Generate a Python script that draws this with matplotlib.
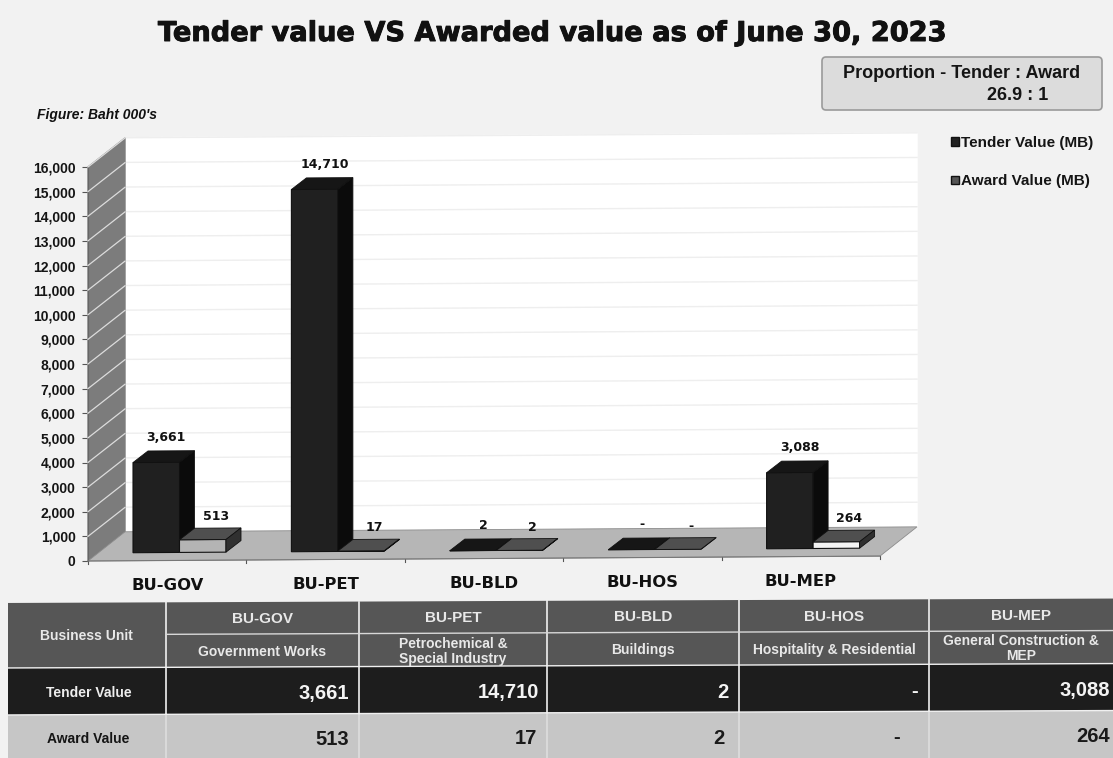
import matplotlib
matplotlib.use("Agg")
import matplotlib.pyplot as plt
import matplotlib.patheffects as pe
from matplotlib.patches import FancyBboxPatch, Patch, Rectangle
from matplotlib.transforms import Affine2D

W, H = 1113, 758

units = ["BU-GOV", "BU-PET", "BU-BLD", "BU-HOS", "BU-MEP"]
unit_names = ["Government Works", "Petrochemical &\nSpecial Industry", "Buildings",
              "Hospitality & Residential", "General Construction &\nMEP"]
tender = [3661, 14710, 2, 0, 3088]
award = [513, 17, 2, 0, 264]
award_front = ["#b4b4b4", "#4a4a4a", "#555555", "#555555", "#f4f4f4"]
yticks = list(range(0, 16001, 1000))
col_edges = [8, 166, 359, 547, 739, 929, 1113]
row_edges = [603, 635, 668, 715, 758]
tender_pad = [10, 8, 11, 11, 3]
award_pad = [10, 10, 14, 29, 3]

BG = "#f2f2f2"
SANS = "Liberation Sans"
HEAVY = [pe.withStroke(linewidth=0.7, foreground="#111111")]


def fmt(v):
    return f"{v:,}" if v else "-"


def bar3d(ax, tr, left, value, width, base, dx, dy, front, top, side, z):
    ax.bar(left, value, width, bottom=base, align="edge", color=front, edgecolor="#111111",
           linewidth=0.8, transform=tr, zorder=z, clip_on=False)
    h = base + value
    ax.fill([left, left + dx, left + width + dx, left + width], [h, h + dy, h + dy, h],
            color=top, ec="#111111", lw=0.6, transform=tr, zorder=z, clip_on=False)
    ax.fill([left + width, left + width + dx, left + width + dx, left + width],
            [base, base + dy, h + dy, h], color=side, ec="#111111", lw=0.6,
            transform=tr, zorder=z, clip_on=False)


fig = plt.figure(figsize=(W / 100, H / 100), dpi=100, facecolor=BG)

# full page layer for the table and the free text, in pixels
page = fig.add_axes([0, 0, 1, 1], zorder=0)
page.set_xlim(0, W)
page.set_ylim(H, 0)
page.axis("off")
page_tilt = Affine2D.from_values(1, -0.004, 0, 1, 0, 0) + page.transData

page.text(552, 34, "Tender value VS Awarded value as of June 30, 2023", ha="center", va="center",
          fontsize=19.6, fontweight="bold", family="DejaVu Sans", color="#111111",
          path_effects=HEAVY)
page.text(37, 115, "Figure: Baht 000's", ha="left", va="center", fontsize=10,
          fontweight="bold", style="italic", family=SANS, color="#111111")
page.add_patch(FancyBboxPatch((822, 57), 280, 53, boxstyle="round,pad=0,rounding_size=4",
                              fc="#dcdcdc", ec="#9a9a9a", lw=1.2))
page.text(962, 73, "Proportion - Tender : Award", ha="center", va="center", fontsize=13,
          fontweight="bold", family=SANS, color="#151515")
page.text(1018, 96, "26.9 : 1", ha="center", va="center", fontsize=13,
          fontweight="bold", family=SANS, color="#151515")

# table
top, sub, head, dark, bottom = row_edges
page.add_patch(Rectangle((col_edges[0], top), W - col_edges[0], head - top, fc="#565656",
                         transform=page_tilt))
page.add_patch(Rectangle((col_edges[0], head), W - col_edges[0], dark - head, fc="#1d1d1d",
                         transform=page_tilt))
page.add_patch(Rectangle((col_edges[0], dark), W - col_edges[0], bottom - dark + 6, fc="#c6c6c6",
                         transform=page_tilt))
for x in col_edges[1:-1]:
    page.plot([x, x], [top, dark], color="#f0f0f0", lw=1.2, transform=page_tilt, zorder=3)
    page.plot([x, x], [dark, bottom + 6], color="#dedede", lw=1.2, transform=page_tilt, zorder=3)
for y in (head, dark):
    page.plot([col_edges[0], W], [y, y], color="#f0f0f0", lw=1.0, transform=page_tilt, zorder=3)
page.plot([col_edges[1], W], [sub, sub], color="#d8d8d8", lw=1.0, transform=page_tilt, zorder=3)

txt = dict(family=SANS, fontweight="bold", va="center", transform=page_tilt, zorder=4)
mid0 = (col_edges[0] + col_edges[1]) / 2
page.text(mid0 - 1, 636, "Business Unit", ha="center", color="#e8e8e8", fontsize=10, **txt)
page.text(mid0 + 2, 693, "Tender Value", ha="center", color="#eeeeee", fontsize=10, **txt)
page.text(mid0 + 1, 739, "Award Value", ha="center", color="#151515", fontsize=10, **txt)
for i, unit in enumerate(units):
    l, r = col_edges[i + 1], col_edges[i + 2]
    c = (l + r) / 2
    page.text(c, 620, unit, ha="center", color="#e8e8e8", fontsize=11, **txt)
    page.text(c, 653, unit_names[i], ha="center", color="#e8e8e8", fontsize=10,
              linespacing=1.1, **txt)
    page.text(r - tender_pad[i], 695, fmt(tender[i]), ha="right", color="#f4f4f4",
              fontsize=14.5, **txt)
    page.text(r - award_pad[i], 741, fmt(award[i]), ha="right", color="#1a1a1a",
              fontsize=14.5, **txt)

# chart, the front plane of the fake 3D box
x0, x1, y0, y16 = 88, 880, 561, 167
ax = fig.add_axes([x0 / W, 1 - y0 / H, (x1 - x0) / W, (y0 - y16) / H], zorder=1)
ax.set_xlim(0, len(units))
ax.set_ylim(0, yticks[-1])
ax.patch.set_alpha(0)
tilt = Affine2D.from_values(1, 40, 0, 1, 0, 0) + ax.transData
px_x = len(units) / (x1 - x0)
px_y = yticks[-1] / (y0 - y16)

wall_dx, wall_dy = 37 * px_x, 29 * px_y
bar_dx, bar_dy = 15 * px_x, 11.5 * px_y
bar_w = 46.5 * px_x
base = 8 * px_y
n = len(units)

ax.fill([wall_dx, n + wall_dx, n + wall_dx, wall_dx],
        [wall_dy, wall_dy, yticks[-1] + wall_dy, yticks[-1] + wall_dy],
        color="white", transform=tilt, clip_on=False, zorder=1)
ax.fill([0, wall_dx, wall_dx, 0], [0, wall_dy, yticks[-1] + wall_dy, yticks[-1]],
        color="#7c7c7c", clip_on=False, zorder=2)
ax.fill([0, n, n + wall_dx, wall_dx], [0, 0, wall_dy, wall_dy], color="#b6b6b6",
        ec="#8c8c8c", lw=0.6, transform=tilt, clip_on=False, zorder=2)
for v in yticks[1:]:
    ax.plot([wall_dx, n + wall_dx], [v + wall_dy, v + wall_dy], color="#eeeeee", lw=1.0,
            transform=tilt, clip_on=False, zorder=1.5)
    ax.plot([0, wall_dx], [v, v + wall_dy], color="#dcdcdc", lw=0.9, clip_on=False, zorder=3)
for i in range(n + 1):
    ax.plot([i, i], [0, -130], color="#555555", lw=0.8, transform=tilt, clip_on=False, zorder=3)
ax.plot([0, n], [0, 0], color="#777777", lw=0.8, transform=tilt, clip_on=False, zorder=3)

for i in range(n):
    left = i + 45 * px_x
    bar3d(ax, tilt, left, tender[i], bar_w, base, bar_dx, bar_dy,
          "#202020", "#161616", "#0b0b0b", 5)
    bar3d(ax, tilt, left + bar_w, award[i], bar_w, base, bar_dx, bar_dy,
          award_front[i], "#4f4f4f", "#303030", 6)
    ax.text(left + bar_w / 2 + 10 * px_x, tender[i] + base + 25 * px_y, fmt(tender[i]),
            ha="center", va="center", fontsize=9, fontweight="bold", color="#111111",
            family="DejaVu Sans", transform=tilt, zorder=7, clip_on=False)
    ax.text(left + 1.5 * bar_w + 13 * px_x, award[i] + base + 23 * px_y, fmt(award[i]),
            ha="center", va="center", fontsize=9, fontweight="bold", color="#111111",
            family="DejaVu Sans", transform=tilt, zorder=7, clip_on=False)
    ax.text(i + 0.5, -25 * px_y, units[i], ha="center", va="center", fontsize=11.8,
            fontweight="bold", color="#111111", family="DejaVu Sans", transform=tilt,
            clip_on=False)

for side in ("top", "right", "bottom"):
    ax.spines[side].set_visible(False)
ax.spines["left"].set_color("#666666")
ax.set_xticks([])
ax.set_yticks(yticks)
ax.set_yticklabels([f"{v:,}" for v in yticks], fontsize=10, fontweight="bold",
                   family=SANS, color="#151515")
ax.tick_params(axis="y", length=4, width=0.8, color="#555555", pad=5)

handles = [Patch(fc="#222222", ec="#111111", label="Tender Value (MB)"),
           Patch(fc="#555555", ec="#111111", label="Award Value (MB)")]
fig.legend(handles=handles, loc="upper left", bbox_to_anchor=(948 / W, 1 - 133 / H), frameon=False,
           prop=dict(family=SANS, weight="bold", size=11), labelcolor="#151515",
           handlelength=0.5, handleheight=0.5, handletextpad=0.15, labelspacing=1.6,
           borderpad=0.2, borderaxespad=0)

fig.savefig("out.png", dpi=100, facecolor=BG)
